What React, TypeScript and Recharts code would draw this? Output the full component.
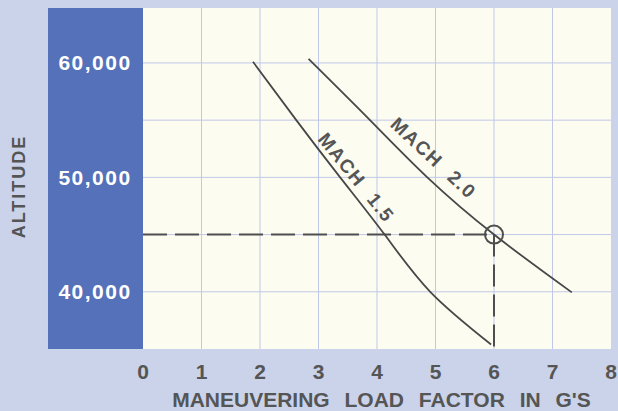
import React from 'react';
import { LineChart, Line, XAxis, YAxis, CartesianGrid, ReferenceArea, ReferenceLine, ReferenceDot } from 'recharts';

// load factor (g) vs altitude (ft)
const mach15G = [1.88, 2.62, 3.37, 4.13, 4.91, 5.95];
const mach15Alt = [60100, 55000, 50000, 45000, 40000, 35400];
const mach20G = [2.83, 3.88, 4.86, 6.0, 7.33];
const mach20Alt = [60350, 55000, 50000, 45000, 39950];

const xTicks = [0, 1, 2, 3, 4, 5, 6, 7, 8];
const yTicks = [40000, 50000, 60000];
const gridAlt = [40000, 45000, 50000, 55000, 60000];
const gridG = [1, 2, 3, 4, 5, 6, 7];

const TARGET_G = 6;
const TARGET_ALT = 45000;
const X_MIN = -1.624; // left edge of the blue band
const Y_DOMAIN = [35000, 64800];

const mach15 = mach15G.map((g, i) => ({ g, alt: mach15Alt[i] }));
const mach20 = mach20G.map((g, i) => ({ g, alt: mach20Alt[i] }));

const colors = {
  page: '#cad3e9',
  band: '#5571ba',
  paper: '#fdfcf1',
  grid: '#bfc8e8',
  curve: '#474747',
  dash: '#4e4e4e',
  text: '#555555',
};

const font = '"Liberation Sans", Arial, sans-serif';

const AltTick = ({ x, y, payload }: any) => (
  <text x={x + 47} y={y} dy="0.36em" textAnchor="middle" fill="#ffffff" fontFamily={font} fontSize={21} fontWeight={700} letterSpacing={1.5}>
    {payload.value.toLocaleString('en-US')}
  </text>
);

const curveLabel = (text: string, angle: number) => (p: any) => (
  <text
    x={p.cx}
    y={p.cy}
    transform={`rotate(${angle} ${p.cx} ${p.cy})`}
    textAnchor="middle"
    dy="0.36em"
    fill={colors.text}
    fontFamily={font}
    fontSize={19}
    fontWeight={700}
    letterSpacing={1.5}
    wordSpacing={8}
  >
    {text}
  </text>
);

export default function App() {
  return (
    <div style={{ position: 'absolute', left: 0, top: 0, width: 618, height: 411, background: colors.page }}>
      <LineChart width={618} height={411} margin={{ top: 8, right: 7, bottom: 0, left: 0 }}>
        <CartesianGrid
          fill={colors.paper}
          stroke={colors.grid}
          strokeWidth={1}
          horizontalValues={gridAlt}
          verticalValues={gridG}
        />
        <ReferenceArea x1={X_MIN} x2={0} fill={colors.band} fillOpacity={1} stroke="none" />
        <XAxis
          type="number"
          dataKey="g"
          domain={[X_MIN, 8]}
          ticks={xTicks}
          allowDataOverflow
          axisLine={false}
          tickLine={false}
          tickSize={0}
          tickMargin={15}
          height={62}
          tick={{ fill: colors.text, fontSize: 21, fontWeight: 700, fontFamily: font }}
          label={{
            content: ({ viewBox }: any) => (
              <text
                x={viewBox.x + viewBox.width / 2 + 52}
                y={viewBox.y + viewBox.height - 4}
                textAnchor="middle"
                fill={colors.text}
                fontFamily={font}
                fontSize={21}
                fontWeight={700}
                wordSpacing={9}
              >
                MANEUVERING LOAD FACTOR IN G'S
              </text>
            ),
          }}
        />
        <YAxis
          type="number"
          dataKey="alt"
          domain={Y_DOMAIN}
          ticks={yTicks}
          allowDataOverflow
          axisLine={false}
          tickLine={false}
          tickSize={0}
          tickMargin={0}
          width={48}
          tick={<AltTick />}
          label={{
            content: ({ viewBox }: any) => {
              const cx = 18.5;
              const cy = viewBox.y + viewBox.height / 2 + 8;
              return (
                <text
                  x={cx}
                  y={cy}
                  transform={`rotate(-90 ${cx} ${cy})`}
                  textAnchor="middle"
                  dy="0.36em"
                  fill={colors.text}
                  fontFamily={font}
                  fontSize={18}
                  fontWeight={700}
                  letterSpacing={2}
                >
                  ALTITUDE
                </text>
              );
            },
          }}
        />
        <ReferenceLine
          segment={[{ x: 0, y: TARGET_ALT }, { x: TARGET_G, y: TARGET_ALT }]}
          stroke={colors.dash}
          strokeWidth={2}
          strokeDasharray="24 8"
          ifOverflow="visible"
        />
        <ReferenceLine
          segment={[{ x: TARGET_G, y: TARGET_ALT }, { x: TARGET_G, y: Y_DOMAIN[0] }]}
          stroke={colors.dash}
          strokeWidth={2}
          strokeDasharray="22 8"
          ifOverflow="visible"
        />
        <Line data={mach15} dataKey="alt" type="natural" stroke={colors.curve} strokeWidth={1.8} dot={false} isAnimationActive={false} />
        <Line data={mach20} dataKey="alt" type="natural" stroke={colors.curve} strokeWidth={1.8} dot={false} isAnimationActive={false} />
        <ReferenceDot x={TARGET_G} y={TARGET_ALT} r={9} fill="none" stroke={colors.dash} strokeWidth={2} />
        <ReferenceDot x={3.65} y={50000} r={0} shape={curveLabel('MACH 1.5', 51)} />
        <ReferenceDot x={4.97} y={51700} r={0} shape={curveLabel('MACH 2.0', 43)} />
      </LineChart>
    </div>
  );
}
